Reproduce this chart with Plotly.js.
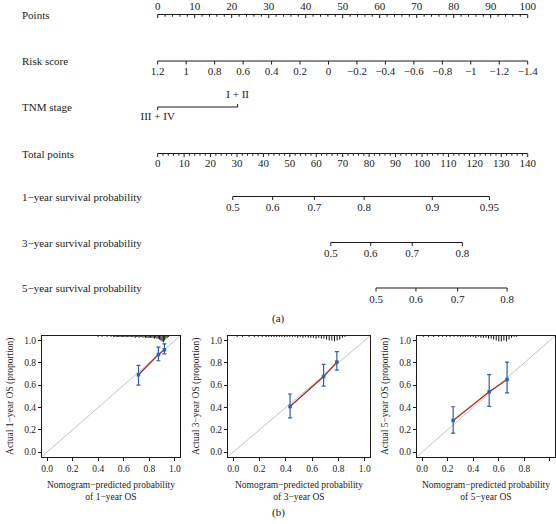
<!DOCTYPE html>
<html><head><meta charset="utf-8">
<script src="https://cdn.plot.ly/plotly-3.0.1.min.js"></script>
<style>html,body{margin:0;padding:0;background:#fff}#chart{width:556px;height:524px}</style>
</head><body><div id="chart"></div>
<script>
// ---------- Nomogram data ----------
const rowTitles = ["Points","Risk score","TNM stage","Total points","1\u2212year survival probability","3\u2212year survival probability","5\u2212year survival probability"];
const pointsLabels = [0,10,20,30,40,50,60,70,80,90,100];
const riskScoreLabels = [1.2,1,0.8,0.6,0.4,0.2,0,-0.2,-0.4,-0.6,-0.8,-1,-1.2,-1.4];
const tnmLevels = ["III + IV","I + II"];
const tnmPoints = [0,21.6];
const totalPointsLabels = [0,10,20,30,40,50,60,70,80,90,100,110,120,130,140];
const surv1Probs = [0.5,0.6,0.7,0.8,0.9,0.95];
const surv1Total = [28.4,43.5,59.3,78.1,103.9,125.5];
const surv3Probs = [0.5,0.6,0.7,0.8];
const surv3Total = [65.5,80.6,96.3,115.3];
const surv5Probs = [0.5,0.6,0.7,0.8];
const surv5Total = [82.6,97.7,113.5,132.2];

// ---------- Calibration data ----------
const cal1Pred = [0.715,0.871,0.918];
const cal1Obs  = [0.693,0.875,0.917];
const cal1Lo   = [0.600,0.818,0.880];
const cal1Hi   = [0.776,0.940,0.970];
const cal3Pred = [0.432,0.687,0.788];
const cal3Obs  = [0.409,0.677,0.806];
const cal3Lo   = [0.306,0.590,0.735];
const cal3Hi   = [0.520,0.785,0.900];
const cal5Pred = [0.243,0.525,0.665];
const cal5Obs  = [0.282,0.540,0.650];
const cal5Lo   = [0.169,0.410,0.530];
const cal5Hi   = [0.406,0.694,0.806];
const rug1X = [0.40,0.43,0.47,0.50,0.52,0.53,0.54,0.55,0.56,0.57,0.58,0.59,0.60,0.61,0.62,0.63,0.64,0.65,0.66,0.67,0.68,0.69,0.70,0.71,0.72,0.73,0.74,0.75,0.76,0.77,0.78,0.79,0.80,0.81,0.82,0.83,0.84,0.85,0.86,0.87,0.88,0.89,0.90,0.91,0.92,0.93,0.94,0.95];
const rug1N = [1,1,1,1, 1,1,1,1,1,1,1,1,1,1, 1,1,1,1,1,1,1,2,1,1, 2,1,1,2,1,2,2,2,2,2, 2,2,3,2,3,3,4,5,6,7, 5,3,2,1];
const rug3X = [0.03,0.07,0.12,0.16,0.19,0.22,0.25,0.27,0.29,0.31,0.33,0.35,0.37,0.39,0.41,0.43,0.45,0.47,0.49,0.51,0.53,0.55,0.57,0.59,0.61,0.63,0.65,0.67,0.69,0.71,0.73,0.75,0.77,0.79,0.81,0.83,0.85];
const rug3N = [1,1,1,1,1,1,1, 1,1,1,1,1,1,1,1,1,1, 1,2,1,2,1,2,2,2,3,2, 3,3,4,5,5,6,5,4,2,1];
const rug5X = [0.01,0.05,0.09,0.13,0.16,0.19,0.22,0.25,0.28,0.30,0.32,0.34,0.36,0.38,0.40,0.42,0.44,0.46,0.48,0.50,0.52,0.54,0.56,0.58,0.60,0.62,0.64,0.66,0.68,0.70,0.72,0.74];
const rug5N = [1,1,1,1,1,1,1,1,1, 1,1,1,1,1,1,2,1,2,2, 2,3,3,4,5,6,6,5,6,4, 2,1,1];

// ---------- layout helpers ----------
const W = 556, H = 524;
const FONT = "Liberation Serif, Times New Roman, serif";
const INK = "#1c1c1c";
const fmt = v => (v < 0 ? "\u2212" + String(Math.abs(v)) : String(v));
const riskToPts = r => (1.2 - r) / 2.6 * 100;
const totToPts = t => t * 100 / 140;
const rowY = [14.5, 61, 107, 153.5, 196.5, 242.5, 288];

const traces = [];
function axisLine(p0, p1, y) {
  traces.push({type:"scatter", mode:"lines", x:[p0,p1], y:[y,y], xaxis:"x", yaxis:"y",
    line:{color:INK, width:1}, hoverinfo:"skip", showlegend:false});
}
function ticks(ps, y, len) {
  const xs = [], ys = [];
  ps.forEach(p => { xs.push(p,p,null); ys.push(y,y+len,null); });
  traces.push({type:"scatter", mode:"lines", x:xs, y:ys, xaxis:"x", yaxis:"y",
    line:{color:INK, width:1}, hoverinfo:"skip", showlegend:false});
}
function labels(ps, y, txt) {
  traces.push({type:"scatter", mode:"text", x:ps, y:ps.map(()=>y), text:txt, xaxis:"x", yaxis:"y",
    textposition:"middle center", textfont:{family:FONT, size:11, color:INK},
    hoverinfo:"skip", showlegend:false, cliponaxis:false});
}

// Points
{
  const y = rowY[0];
  axisLine(0, 100, y);
  const minor = []; for (let v = 0; v <= 100; v += 2) if (v % 10) minor.push(v);
  ticks(pointsLabels, y, 3.5); ticks(minor, y, 2.2);
  labels(pointsLabels, 7.5, pointsLabels.map(String));
}
// Risk score
{
  const y = rowY[1], ps = riskScoreLabels.map(riskToPts);
  axisLine(ps[0], ps[ps.length-1], y);
  ticks(ps, y, 3.5);
  labels(ps, y + 11, riskScoreLabels.map(fmt));
}
// TNM stage
{
  const y = rowY[2];
  axisLine(tnmPoints[0], tnmPoints[1], y);
  ticks([tnmPoints[0]], y, 3); ticks([tnmPoints[1]], y, -3);
  labels([tnmPoints[0]], y + 10.5, [tnmLevels[0]]);
  labels([tnmPoints[1]], y - 11.5, [tnmLevels[1]]);
}
// Total points
{
  const y = rowY[3], ps = totalPointsLabels.map(totToPts);
  axisLine(ps[0], ps[ps.length-1], y);
  const minor = []; for (let v = 0; v <= 140; v += 2) if (v % 10) minor.push(totToPts(v));
  ticks(ps, y, 3.5); ticks(minor, y, 2.2);
  labels(ps, y + 11, totalPointsLabels.map(String));
}
// Survival scales
[[surv1Probs, surv1Total, rowY[4]], [surv3Probs, surv3Total, rowY[5]], [surv5Probs, surv5Total, rowY[6]]].forEach(([pr, tot, y]) => {
  const ps = tot.map(totToPts);
  axisLine(ps[0], ps[ps.length-1], y);
  ticks(ps, y, 3.5);
  labels(ps, y + 12, pr.map(String));
});

// ---------- calibration panels ----------
const BLUE = "#2f5fb0", RED = "#a3322d", GREY = "#c4c4c4";
const cals = [
  {pred:cal1Pred, obs:cal1Obs, lo:cal1Lo, hi:cal1Hi, rx:rug1X, rn:rug1N, yr:"1"},
  {pred:cal3Pred, obs:cal3Obs, lo:cal3Lo, hi:cal3Hi, rx:rug3X, rn:rug3N, yr:"3"},
  {pred:cal5Pred, obs:cal5Obs, lo:cal5Lo, hi:cal5Hi, rx:rug5X, rn:rug5N, yr:"5"}
];
const panelPx = [[42,180],[228,370],[417,555]];
const panelTop = 336, panelBot = 456.5;
const R = [-0.04, 1.04];
const layout = {
  width:W, height:H, margin:{l:0,r:0,t:0,b:0}, paper_bgcolor:"#fff", plot_bgcolor:"rgba(0,0,0,0)",
  showlegend:false, font:{family:FONT, color:INK},
  xaxis:{domain:[0,1], range:[(0-157.7)/3.7, (W-157.7)/3.7], visible:false, fixedrange:true},
  yaxis:{domain:[0,1], range:[H,0], visible:false, fixedrange:true},
  annotations:[]
};
rowTitles.forEach((t,i) => layout.annotations.push({text:t, xref:"paper", yref:"y", x:19.5/W, y:rowY[i],
  xanchor:"left", yanchor:"middle", showarrow:false, font:{family:FONT, size:11, color:INK}}));
layout.annotations.push({text:"(a)", xref:"paper", yref:"paper", x:278/W, y:1-318/H, xanchor:"center", yanchor:"middle", showarrow:false, font:{family:FONT,size:11,color:INK}});
layout.annotations.push({text:"(b)", xref:"paper", yref:"paper", x:278/W, y:1-512/H, xanchor:"center", yanchor:"middle", showarrow:false, font:{family:FONT,size:11,color:INK}});

const tv = [0,0.2,0.4,0.6,0.8,1.0], tt = tv.map(v=>v.toFixed(1));
cals.forEach((c, i) => {
  const n = i + 2, xa = "x"+n, ya = "y"+n;
  const axBase = {range:R, showline:true, mirror:true, linecolor:INK, linewidth:1, ticks:"outside", ticklen:3,
    tickwidth:1, tickcolor:INK, tickvals:tv, ticktext:tt, showgrid:false, zeroline:false,
    tickfont:{family:FONT, size:9.5, color:INK}, fixedrange:true};
  layout["xaxis"+n] = Object.assign({}, axBase, {domain:[panelPx[i][0]/W, panelPx[i][1]/W], anchor:ya,
    title:{text:"Nomogram\u2212predicted probability<br>of "+c.yr+"\u2212year OS", font:{family:FONT,size:9.5,color:INK}, standoff:8}});
  layout["yaxis"+n] = Object.assign({}, axBase, {domain:[1-panelBot/H, 1-panelTop/H], anchor:xa,
    title:{text:"Actual "+c.yr+"\u2212year OS (proportion)", font:{family:FONT,size:9.5,color:INK}, standoff:8}});
  // ideal diagonal
  traces.push({type:"scatter", mode:"lines", x:R, y:R, xaxis:xa, yaxis:ya, line:{color:GREY, width:1}, hoverinfo:"skip"});
  // risk distribution spikes at top
  const sx = [], sy = [];
  c.rx.forEach((v,k) => { sx.push(v,v,null); sy.push(R[1], R[1]-c.rn[k]*0.008, null); });
  traces.push({type:"scatter", mode:"lines", x:sx, y:sy, xaxis:xa, yaxis:ya, line:{color:"#111", width:1}, hoverinfo:"skip"});
  // calibration line
  traces.push({type:"scatter", mode:"lines", x:c.pred, y:c.obs, xaxis:xa, yaxis:ya, line:{color:RED, width:1.4}});
  // points with CIs
  traces.push({type:"scatter", mode:"markers", x:c.pred, y:c.obs, xaxis:xa, yaxis:ya,
    marker:{color:BLUE, size:3.5, symbol:"square"},
    error_y:{type:"data", symmetric:false, array:c.hi.map((h,k)=>h-c.obs[k]), arrayminus:c.obs.map((o,k)=>o-c.lo[k]),
      color:BLUE, thickness:1.2, width:2}});
});

Plotly.newPlot("chart", traces, layout, {staticPlot:true, displayModeBar:false});
</script>
</body></html>
